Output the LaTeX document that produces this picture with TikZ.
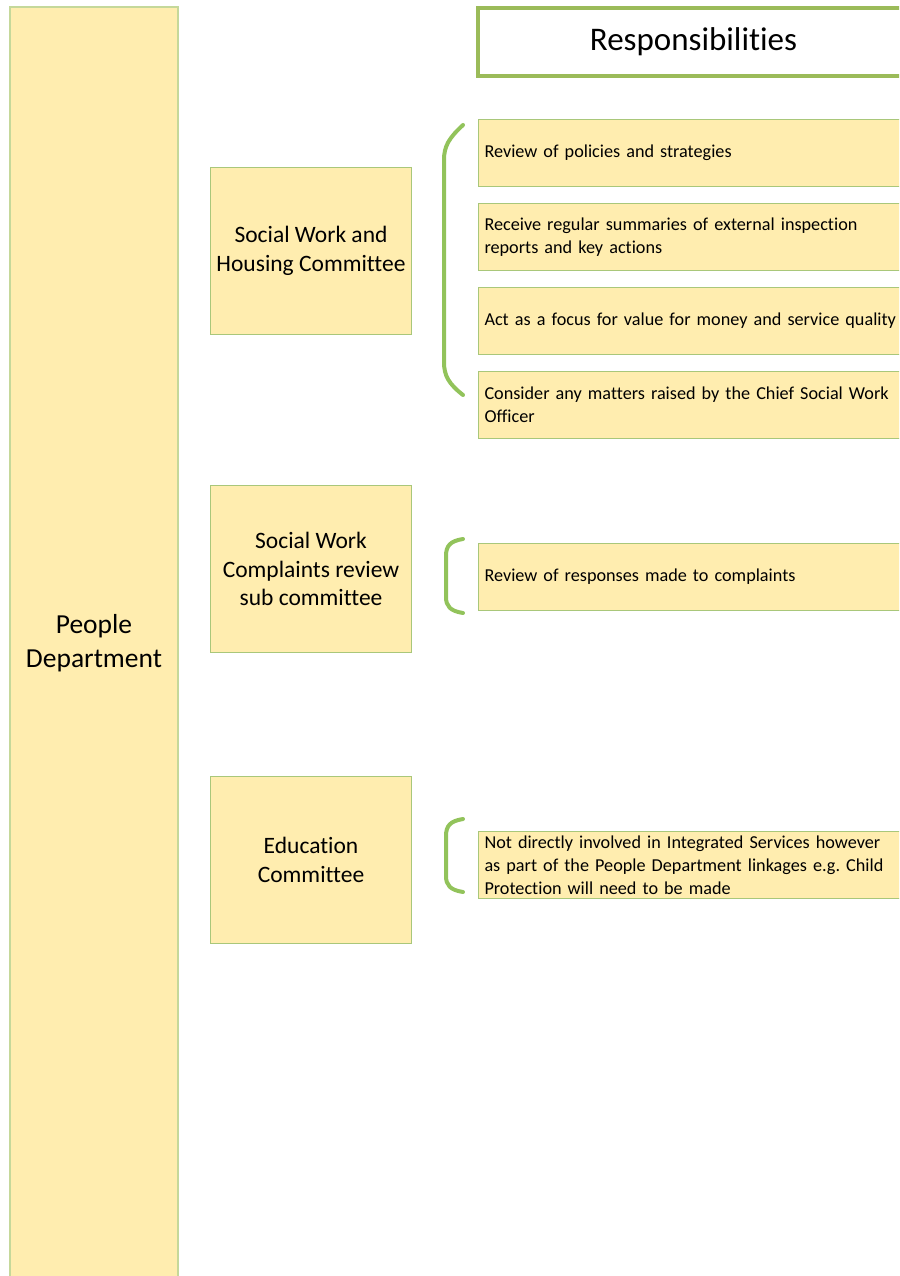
\documentclass[tikz,border=0pt]{standalone}
\usepackage{fontspec}
\setmainfont{Carlito}[Ligatures=NoCommon]
\usepackage{tikz}
\definecolor{boxfill}{HTML}{FFEDAF}
\definecolor{deptline}{HTML}{C5D89A}
\definecolor{boxline}{HTML}{A9C77A}
\definecolor{titleline}{HTML}{9BBB59}
\definecolor{bracegreen}{HTML}{92C35B}
\frenchspacing

\begin{document}
\begin{tikzpicture}[x=1pt,y=-1pt,
		dept/.style={draw=deptline,line width=2pt,fill=boxfill,anchor=north west,minimum width=168pt,minimum height=1272pt,align=center,inner sep=0pt,font=\fontsize{27.5}{33.5}\selectfont},
		committee/.style={draw=boxline,line width=1pt,fill=boxfill,anchor=north west,minimum width=201pt,minimum height=167pt,align=center,inner sep=0pt,font=\fontsize{23.5}{28.5}\selectfont},
		duty/.style={draw=boxline,line width=1pt,fill=boxfill,anchor=north west,minimum height=67pt,text width=440pt,inner xsep=6pt,inner ysep=0pt,align=left,font=\fontsize{18.2}{23}\selectfont},
		titlebox/.style={draw=titleline,line width=4pt,fill=white,anchor=north west,minimum width=431pt,minimum height=68pt,inner sep=0pt,font=\fontsize{33}{40}\selectfont},
		bracket/.style={draw=bracegreen,line width=4pt,line cap=round}]
			\path[use as bounding box] (0,0) rectangle (899,1276);
			\clip (0,0) rectangle (899,1276);
			\fill[white] (0,0) rectangle (899,1276);
			
			\node[dept] (PD) at (9,6) {People\\Department};
			
			\node[titlebox] (Resp) at (476,6) {Responsibilities};
			
			\node[committee] (SW) at (210,167) {Social Work and\\Housing Committee};
			\node[committee] (CR) at (210,485) {Social Work\\Complaints review\\sub committee};
			\node[committee] (Ed) at (210,776) {Education\\Committee};
			
			\node[duty] (R1) at (478,119) {Review of policies and strategies};
			\node[duty] (R2) at (478,203) {Receive regular summaries of external inspection\\reports and key actions};
			\node[duty] (R3) at (478,287) {Act as a focus for value for money and service quality};
			\node[duty] (R4) at (478,371) {Consider any matters raised by the Chief Social Work\\Officer};
			
			\node[duty] (C1) at (478,543) {Review of responses made to complaints};
			
			\node[duty] (E1) at (478,831) {Not directly involved in Integrated Services however\\as part of the People Department linkages e.g. Child\\Protection will need to be made};
			
			\draw[bracket] (463,125) .. controls (449,138) and (444,146) .. (444,160) -- (444,362) .. controls (444,376) and (449,384) .. (463,395);
			\draw[bracket] (463,539) .. controls (450,541) and (446,546) .. (446,556) -- (446,597) .. controls (446,606) and (450,611) .. (463,613);
			\draw[bracket] (463,819) .. controls (450,821) and (446,826) .. (446,836) -- (446,876) .. controls (446,885) and (450,890) .. (463,892);
		\end{tikzpicture}
\end{document}
